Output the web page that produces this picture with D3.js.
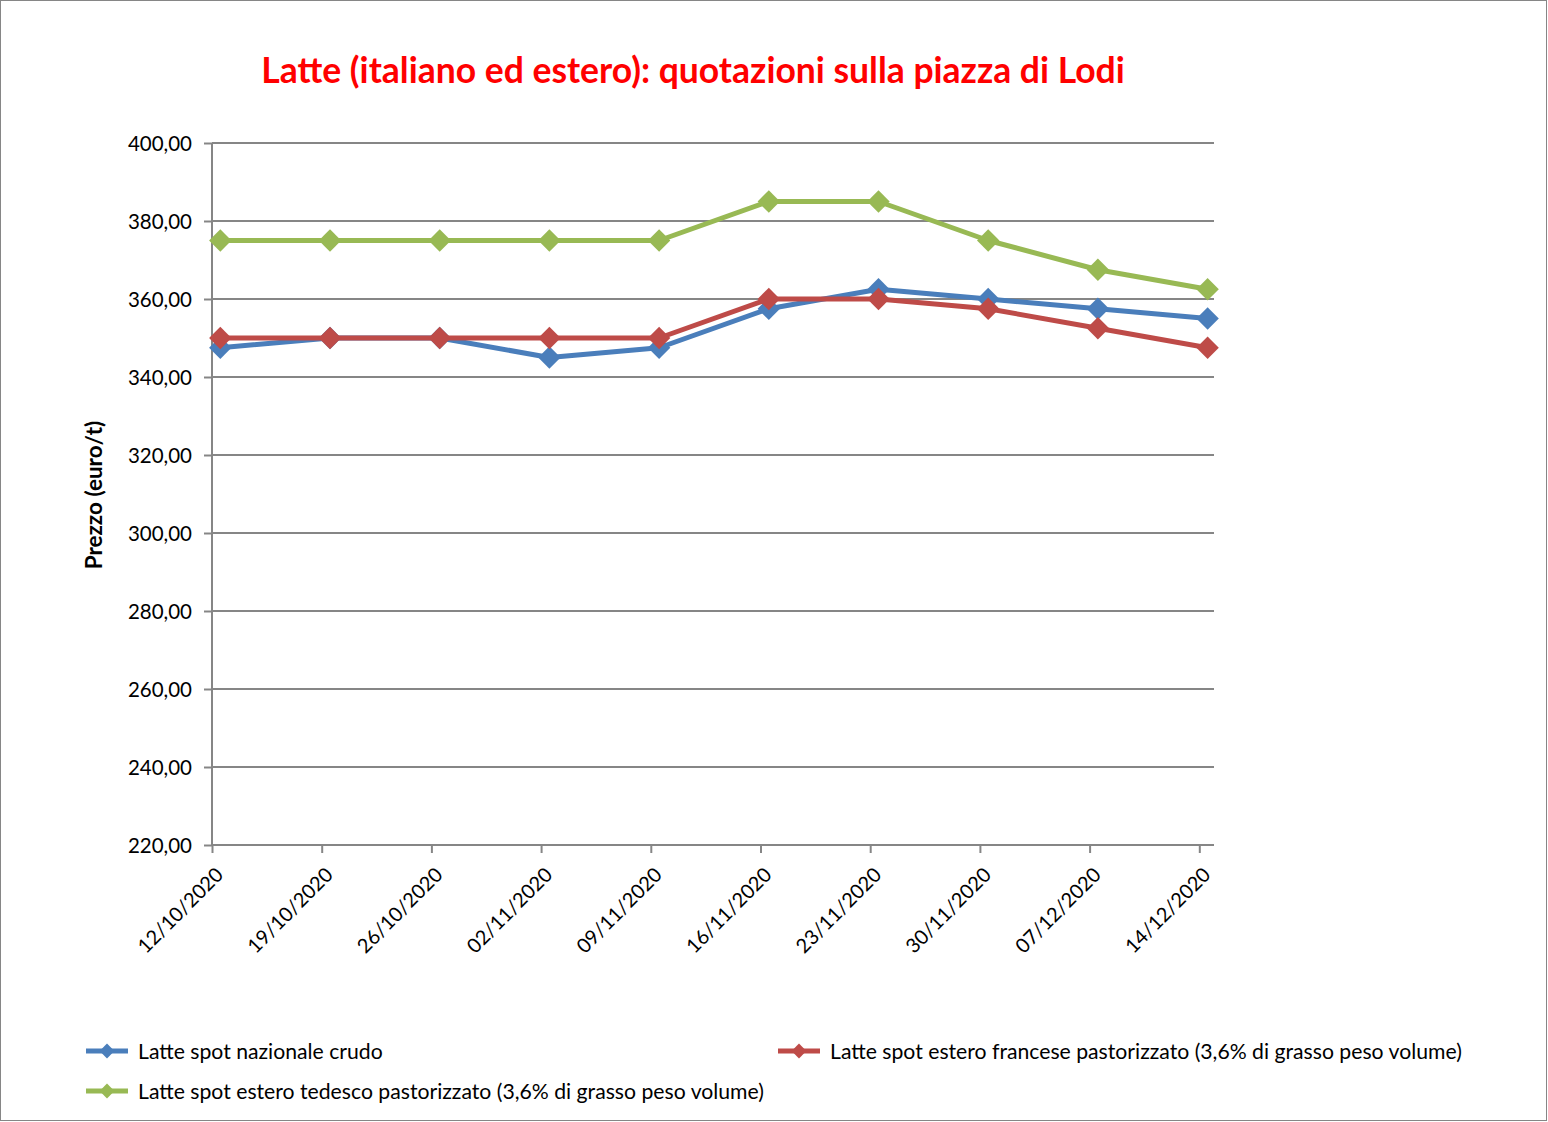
<!DOCTYPE html>
<html><head><meta charset="utf-8">
<script src="https://cdn.jsdelivr.net/npm/d3@7"></script>
<style>
body{margin:0;background:#fff;}
svg text{font-family:"Lato","Open Sans",sans-serif;}
</style></head>
<body>
<svg id="c" width="1548" height="1122"></svg>
<script>
const categories = ["12/10/2020","19/10/2020","26/10/2020","02/11/2020","09/11/2020","16/11/2020","23/11/2020","30/11/2020","07/12/2020","14/12/2020"];
const nazionale = [347.5,350,350,345,347.5,357.5,362.5,360,357.5,355];
const francese = [350,350,350,350,350,360,360,357.5,352.5,347.5];
const tedesco = [375,375,375,375,375,385,385,375,367.5,362.5];
const yTicks = [220,240,260,280,300,320,340,360,380,400];
const seriesNames = ["Latte spot nazionale crudo","Latte spot estero francese pastorizzato (3,6% di grasso peso volume)","Latte spot estero tedesco pastorizzato (3,6% di grasso peso volume)"];
const colors = ["#4A7EBB","#BE4B48","#98B954"];
const title = "Latte (italiano ed estero): quotazioni sulla piazza di Lodi";
const yTitle = "Prezzo (euro/t)";

const svg = d3.select("#c");
svg.append("rect").attr("x",0.5).attr("y",0.5).attr("width",1546).attr("height",1120)
  .attr("fill","#fff").attr("stroke","#868686").attr("stroke-width",1);

const L=212, R=1214, T=143, B=845;
const y = d3.scaleLinear().domain([220,400]).range([B,T]);
const xt = d3.scalePoint().domain(categories).range([212,1199.3]);
const off = 8.3;
const x = c => xt(c)+off;

// gridlines
svg.append("g").selectAll("line").data(yTicks.filter(d=>d>220)).join("line")
  .attr("x1",L).attr("x2",R).attr("y1",d=>y(d)).attr("y2",d=>y(d))
  .attr("stroke","#868686").attr("stroke-width",2);

// y axis
const fmt = d => d3.format(".2f")(d).replace(".",",");
const ya = svg.append("g").attr("transform",`translate(${L},0)`)
  .call(d3.axisLeft(y).tickValues(yTicks).tickFormat(fmt).tickSize(8).tickPadding(12));
ya.select(".domain").attr("stroke","#868686").attr("stroke-width",2).attr("d",`M0,${T}V${B}`);
ya.selectAll(".tick line").attr("stroke","#868686").attr("stroke-width",2);
ya.selectAll(".tick text").attr("font-size",20.5).attr("fill","#000")
  .attr("font-family","Lato,sans-serif").attr("dy","0.36em");

// x axis
const xa = svg.append("g").attr("transform",`translate(0,${B})`)
  .call(d3.axisBottom(xt).tickSize(8).tickPadding(0));
xa.select(".domain").attr("stroke","#868686").attr("stroke-width",2).attr("d",`M${L},0H${R}`);
xa.selectAll(".tick line").attr("stroke","#868686").attr("stroke-width",2);
xa.selectAll(".tick text").attr("font-size",20).attr("fill","#000")
  .attr("font-family","Lato,sans-serif")
  .attr("text-anchor","end").attr("dy",0).attr("y",0)
  .attr("transform","translate(12,31) rotate(-45)");

// lines
const allSeries = [nazionale, francese, tedesco];
const line = d3.line().x((d,i)=>x(categories[i])).y(d=>y(d));
const diamond = d3.symbol().type(d3.symbolDiamond2).size(320);
[0,1,2].forEach(si=>{
  svg.append("path").datum(allSeries[si]).attr("d",line).attr("fill","none")
    .attr("stroke",colors[si]).attr("stroke-width",5).attr("stroke-linejoin","round");
  svg.append("g").selectAll("path").data(allSeries[si]).join("path")
    .attr("d",diamond).attr("fill",colors[si])
    .attr("transform",(d,i)=>`translate(${x(categories[i])},${y(d)})`);
});

// title
svg.append("text").attr("x",693).attr("y",83).attr("text-anchor","middle")
  .attr("font-size",35.5).attr("font-weight","bold").attr("fill","#FF0000").text(title);

// y title
svg.append("text").attr("transform","translate(102,495) rotate(-90)").attr("text-anchor","middle")
  .attr("font-size",22.5).attr("font-weight","bold").attr("fill","#000").text(yTitle);

// legend
const legPos = [[86,1051],[778,1051],[86,1091]];
const leg = svg.append("g");
seriesNames.forEach((n,i)=>{
  const [lx,ly]=legPos[i];
  leg.append("line").attr("x1",lx).attr("x2",lx+42).attr("y1",ly).attr("y2",ly)
    .attr("stroke",colors[i]).attr("stroke-width",5);
  leg.append("path").attr("d",d3.symbol().type(d3.symbolDiamond2).size(140)).attr("fill",colors[i])
    .attr("transform",`translate(${lx+21},${ly})`);
  leg.append("text").attr("x",lx+52).attr("y",ly).attr("dy","0.36em")
    .attr("font-size",21.2).attr("fill","#000").text(n);
});
</script>
</body></html>
